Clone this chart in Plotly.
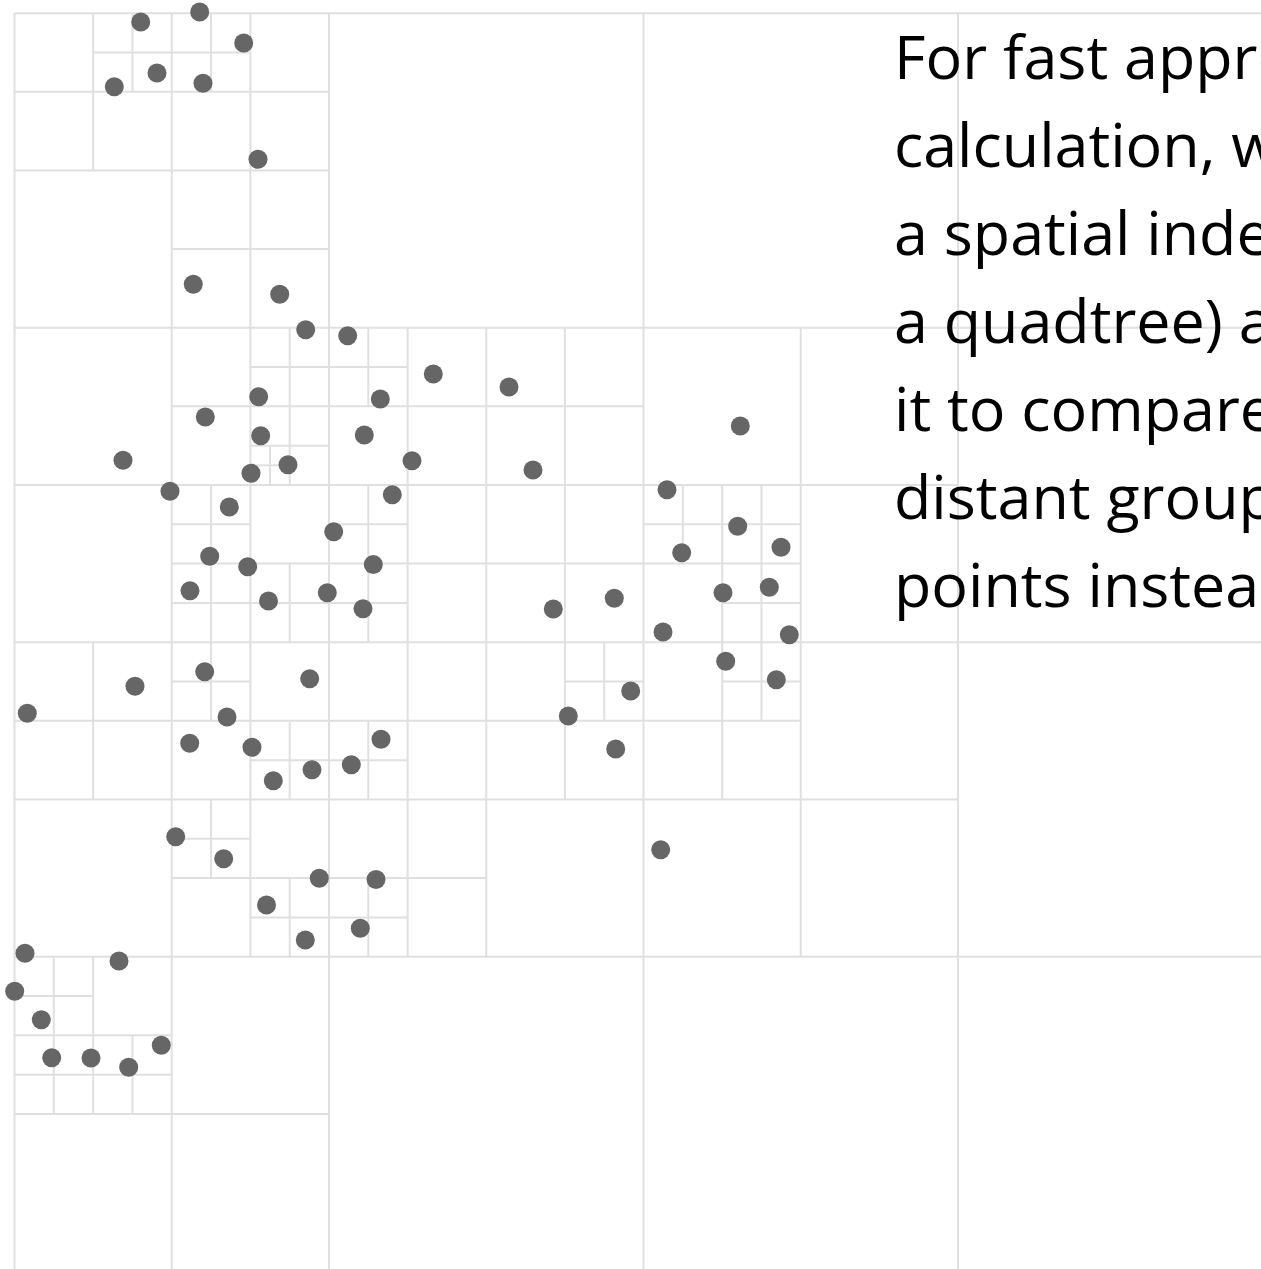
import plotly.graph_objects as go

# ---- data: point positions (data units) ----
point_x = [140.7, 199.7, 243.7, 157.0, 114.3, 203.0, 258.0, 193.3, 279.7, 305.7,
           347.7, 433.3, 509.0, 380.3, 258.7, 205.3, 364.3, 260.7, 123.0, 288.0,
           412.0, 533.0, 251.0, 170.0, 392.3, 229.3, 333.7, 209.7, 373.3, 247.7,
           190.0, 327.3, 268.5, 363.0, 553.3, 614.3, 740.3, 667.0, 737.7, 781.0,
           681.7, 723.0, 769.3, 663.0, 789.3, 204.7, 135.0, 27.3, 227.0, 189.7,
           252.0, 273.3, 309.7, 381.0, 312.0, 351.3, 568.3, 630.7, 615.7, 725.7,
           776.3, 660.7, 175.7, 223.7, 266.5, 319.3, 376.0, 305.3, 360.3, 25.0,
           119.0, 14.7, 41.3, 51.7, 91.0, 128.7, 161.3]
point_y = [22.0, 12.0, 43.0, 73.0, 86.7, 83.3, 159.3, 284.3, 294.3, 329.7,
           335.7, 374.0, 387.0, 399.0, 396.7, 417.0, 435.0, 435.7, 460.3, 464.7,
           460.7, 470.0, 473.3, 491.3, 494.7, 507.0, 531.7, 556.3, 564.5, 566.7,
           590.7, 592.7, 601.0, 608.7, 609.0, 598.3, 426.0, 489.7, 526.3, 547.3,
           552.7, 592.7, 587.3, 632.0, 634.7, 671.7, 686.3, 713.3, 717.0, 743.3,
           747.3, 780.7, 678.7, 739.3, 769.7, 764.7, 716.0, 691.0, 749.0, 661.3,
           679.7, 849.7, 836.7, 858.7, 905.0, 878.3, 879.5, 940.0, 928.3, 953.3,
           961.0, 991.3, 1019.7, 1057.7, 1058.0, 1067.3, 1045.3]

# quadtree root extent (data units)
root_extent = [14.5, 13.2, 1272.5, 1271.2]

text_lines = [
    "For fast approximate",
    "calculation, we use",
    "a spatial index (like",
    "a quadtree) and use",
    "it to compare",
    "distant groups of",
    "points instead of",
]

# ---- build quadtree (leaf = at most one point) ----
seg_x, seg_y = [], []


def add_seg(xa, ya, xb, yb):
    seg_x.extend([xa, xb, None])
    seg_y.extend([ya, yb, None])


def build(pts, x0, y0, x1, y1):
    if len(pts) < 2:
        return
    xm = (x0 + x1) / 2.0
    ym = (y0 + y1) / 2.0
    add_seg(xm, y0, xm, y1)
    add_seg(x0, ym, x1, ym)
    quads = [[], [], [], []]
    for (px, py) in pts:
        i = (1 if px >= xm else 0) + (2 if py >= ym else 0)
        quads[i].append((px, py))
    build(quads[0], x0, y0, xm, ym)
    build(quads[1], xm, y0, x1, ym)
    build(quads[2], x0, ym, xm, y1)
    build(quads[3], xm, ym, x1, y1)


rx0, ry0, rx1, ry1 = root_extent
add_seg(rx0, ry0, rx1, ry0)
add_seg(rx1, ry0, rx1, ry1)
add_seg(rx1, ry1, rx0, ry1)
add_seg(rx0, ry1, rx0, ry0)
build(list(zip(point_x, point_y)), rx0, ry0, rx1, ry1)

fig = go.Figure()
fig.add_trace(go.Scatter(
    x=seg_x, y=seg_y, mode="lines",
    line=dict(color="#e0e0e0", width=2),
    hoverinfo="skip", showlegend=False,
))
fig.add_trace(go.Scatter(
    x=point_x, y=point_y, mode="markers",
    marker=dict(color="#666666", size=19, line=dict(width=0)),
    hoverinfo="skip", showlegend=False,
))

for i, t in enumerate(text_lines):
    fig.add_annotation(
        x=893, y=55 + 88 * i, xref="x", yref="y",
        text=t, showarrow=False, xanchor="left", yanchor="middle",
        font=dict(family="Open Sans", size=61, color="#000000"),
        borderpad=0,
    )

fig.update_layout(
    width=1261, height=1269,
    margin=dict(l=0, r=0, t=0, b=0),
    paper_bgcolor="white", plot_bgcolor="white",
    xaxis=dict(range=[0, 1261], visible=False, fixedrange=True),
    yaxis=dict(range=[1269, 0], visible=False, fixedrange=True),
    showlegend=False,
)

# remove the default 8px page margin so the chart fills the window
fig.write_html(
    "out.html",
    config={"displayModeBar": False, "staticPlot": True},
    post_script="document.body.style.margin='0';",
)
